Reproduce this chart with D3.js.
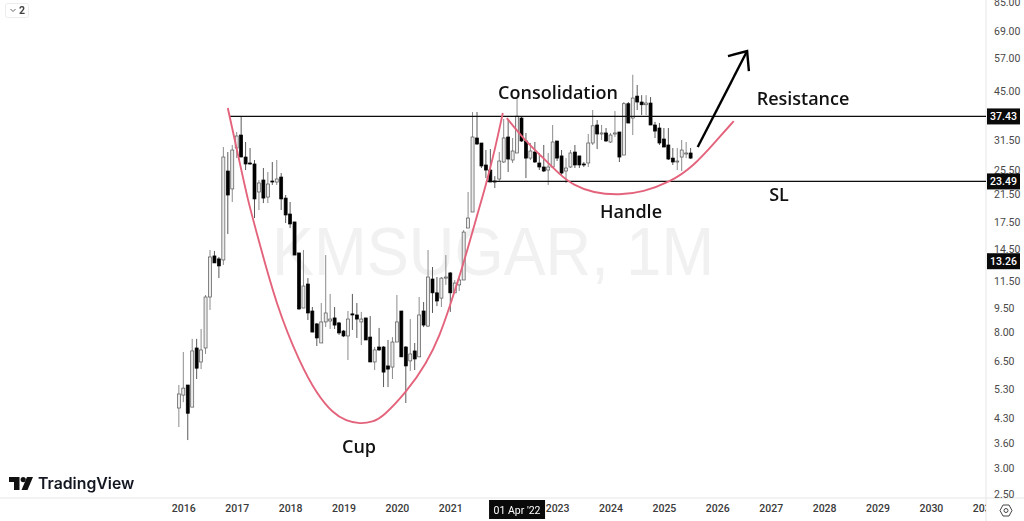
<!DOCTYPE html>
<html>
<head>
<meta charset="utf-8">
<script src="https://cdn.jsdelivr.net/npm/d3@7"></script>
<style>
	html, body { margin: 0; background: #fff; overflow: hidden; }
	text { font-family: "Open Sans", sans-serif; }
</style>
</head>
<body>
<div id="chart"></div>
<script>
// monthly candles, Dec 2015 to Jul 2025
const opens = [4.63,5.08,5.46,4.66,7.12,6.44,7.12,10.26,13.77,13.48,
	13.38,25.31,22.26,29.84,32.76,27.98,26.81,26.62,21.78,23.73,
	21.0,23.56,23.39,24.24,20.85,18.6,17.57,14.07,9.48,11.26,
	9.28,8.46,7.38,8.58,8.64,8.83,8.52,8.04,7.76,9.09,
	9.02,8.58,8.83,7.70,6.44,7.17,7.17,6.26,6.21,7.43,
	9.28,7.17,6.49,6.97,6.68,9.28,8.33,11.67,10.57,10.18,
	11.75,12.19,10.57,11.19,11.59,16.82,18.87,32.07,30.94,26.43,
	25.49,23.56,23.9,27.0,32.3,27.39,28.8,37.0,31.39,27.77,
	29.0,26.81,26.05,25.49,26.05,31.39,28.2,25.31,26.05,29.0,
	28.2,26.62,26.81,30.94,35.2,33.0,33.25,31.16,33.0,33.48,
	28.38,41.0,37.0,43.3,41.5,40.7,41.2,35.2,34.45,31.84,
	30.5,27.77,27.0,27.98,28.6,28.8];
const highs = [5.46,6.92,5.46,7.60,7.60,8.16,10.41,14.37,14.27,13.67,
	30.06,29.0,30.5,33.48,37.27,31.16,29.84,27.39,23.73,25.86,
	25.13,27.0,27.39,24.95,21.31,20.27,17.57,14.07,14.37,11.75,
	9.55,8.52,9.83,13.86,10.49,9.55,8.58,8.10,9.28,10.49,
	9.83,9.22,8.83,8.95,7.17,8.22,7.22,7.54,7.70,10.41,
	9.28,7.22,8.76,7.38,10.26,9.90,14.37,12.72,11.84,11.84,
	13.86,12.27,11.59,11.84,16.58,21.78,38.63,38.63,30.94,29.42,
	29.63,24.4,29.0,36.74,36.48,32.07,42.7,37.27,33.25,30.94,
	31.16,28.8,30.5,28.8,35.2,31.39,29.42,27.77,29.42,30.5,
	28.2,27.0,33.0,39.19,36.48,35.2,34.45,33.25,38.9,33.48,
	41.5,41.5,50.45,46.9,43.6,43.6,43.0,36.0,35.7,34.45,
	34.45,29.84,29.84,31.61,31.16,29.84];
const lows = [4.04,4.83,3.68,4.66,5.70,6.12,6.82,9.35,13.10,11.75,
	12.91,16.11,20.27,27.77,27.98,25.49,26.43,18.07,19.14,20.12,
	20.12,22.9,22.9,19.14,17.44,16.82,13.86,9.35,9.48,8.70,
	7.98,7.22,7.38,8.27,8.16,8.16,7.82,7.70,6.53,8.10,
	7.65,7.27,7.54,6.44,6.08,6.97,5.38,5.38,5.70,7.43,
	6.68,4.80,6.04,6.08,6.68,8.27,8.27,9.15,9.61,9.55,
	11.19,9.22,10.57,10.71,11.59,16.82,18.87,30.5,25.86,24.06,
	23.39,22.4,23.39,26.81,25.13,26.81,28.8,31.16,24.06,27.39,
	26.81,25.49,25.13,22.9,25.86,27.19,24.59,23.23,25.86,25.86,
	25.86,26.05,26.05,30.5,29.63,31.61,31.16,30.94,32.3,27.0,
	28.38,35.7,32.76,39.19,37.8,37.8,35.2,32.07,30.5,30.06,
	27.39,26.43,25.49,25.31,27.77,27.58];
const closes = [5.12,5.34,4.46,6.97,6.16,7.02,10.26,13.67,13.10,12.82,
	27.98,21.31,29.42,32.53,27.98,26.62,26.62,20.72,23.23,20.85,
	23.06,23.39,23.9,20.72,18.47,17.32,13.86,9.42,11.10,9.15,
	7.98,7.65,8.58,9.15,8.76,8.39,7.93,7.76,8.76,9.02,
	8.76,8.76,7.54,6.44,7.02,7.02,5.99,6.12,7.43,8.58,
	6.68,6.26,6.82,6.58,9.02,8.39,11.84,10.57,9.97,11.75,
	11.84,10.57,11.34,11.59,16.34,18.07,32.3,30.72,26.24,25.49,
	23.39,23.39,27.19,32.07,27.58,29.21,37.5,31.39,27.77,29.21,
	27.0,26.05,25.31,26.05,31.16,27.77,24.95,25.86,28.8,26.43,
	26.43,26.43,30.94,35.0,33.0,33.25,31.39,32.76,33.25,27.98,
	41.0,35.7,42.7,41.5,40.7,41.2,35.2,33.7,30.94,30.06,
	27.58,27.0,27.19,29.42,28.8,27.77];

const firstMonth = new Date(2015, 11, 1);
const months = d3.timeMonth.range(firstMonth, new Date(2025, 7, 1));
const baseMonth = new Date(2016, 0, 1);  // month number 0 on the time axis

const priceTicks = [85,69,57,45,31.5,25.5,21.5,17.5,14.5,11.5,9.5,8,6.5,5.3,4.3,3.6,3,2.5];
const priceBadges = [37.43, 23.49, 13.26];
// 2022 sits under the crosshair date label, so it is left out
const yearTicks = [2016,2017,2018,2019,2020,2021,2023,2024,2025,2026,2027,2028,2029,2030,2031];

// drawing tools, x in months since Jan 2016
const resistance = 37.43, stopLoss = 23.49;
const resistanceStart = 10.4, stopLossStart = 68;
const cupMonths = [10,12.7,14.5,16.5,21,26.2,30,33.6,36.6,39.7,42.6,44.9,50.2,54.7,57.7,59.9,62.9,65.9,68.2,70.1,71.8];
const cupPrices = [39.74,26.81,20.56,16.23,9.55,6.39,5.12,4.46,4.22,4.13,4.19,4.35,5.2,6.39,7.82,9.62,12.91,18.2,23.39,29.84,38.36];
const handleMonths = [72.7,76.3,80.2,84.7,87.6,92.1,98.1,103.3,109.4,114.5,119.9,123.7];
const handlePrices = [37,32.07,28.38,24.59,22.9,21.62,21.31,21.78,23.39,26.05,31.61,36.2];
const arrowMonths = [115.6,126.7];
const arrowPrices = [30.06,59.8];
const arrowHeadMonths = [122.4,126.7,127.1];
const arrowHeadPrices = [57.7,59.8,51.8];

const width = 1024, height = 521;
const axisX = 986, axisY = 498;

const svg = d3.select("#chart").append("svg")
	.attr("width", width)
	.attr("height", height)
	.style("display", "block");

const x = d3.scaleLinear().domain([0, 180]).range([183.3, 984.3]);
const y = d3.scaleLog().domain([2.5, 85]).range([494, 2]);

// the source is a soft video frame
svg.append("defs").append("filter").attr("id", "soft")
	.append("feGaussianBlur").attr("stdDeviation", 0.35);
svg.select("defs").append("clipPath").attr("id", "plot")
	.append("rect").attr("width", axisX).attr("height", axisY);
svg.select("defs").append("clipPath").attr("id", "timeClip")
	.append("rect").attr("width", axisX).attr("height", height);

// Watermark
svg.append("text")
	.attr("x", 493).attr("y", 275)
	.attr("text-anchor", "middle")
	.attr("textLength", 442)
	.attr("lengthAdjust", "spacingAndGlyphs")
	.style("font-family", "'Liberation Sans', sans-serif")
	.style("font-size", "68px")
	.attr("fill", "#f1f1f2")
	.text("KMSUGAR, 1M");

// Frame
svg.append("line").attr("x1", axisX).attr("x2", axisX).attr("y1", 0).attr("y2", height)
	.attr("stroke", "#e6e6e6");
svg.append("line").attr("x1", 0).attr("x2", width).attr("y1", axisY).attr("y2", axisY)
	.attr("stroke", "#e6e6e6");

const marks = svg.append("g").attr("clip-path", "url(#plot)").attr("filter", "url(#soft)");

// Candles
const candles = marks.selectAll("g.candle")
	.data(months)
	.join("g")
	.attr("class", "candle")
	.attr("transform", d => "translate(" + x(d3.timeMonth.count(baseMonth, d)) + ",0)");

candles.append("line")
	.attr("y1", (d, i) => y(highs[i]))
	.attr("y2", (d, i) => y(lows[i]))
	.attr("stroke", (d, i) => closes[i] >= opens[i] ? "#8c8c8c" : "#5a5a5a")
	.attr("stroke-width", 1);

candles.append("rect")
	.attr("x", -1.5)
	.attr("width", 3)
	.attr("y", (d, i) => y(Math.max(opens[i], closes[i])))
	.attr("height", (d, i) => Math.max(1, Math.abs(y(opens[i]) - y(closes[i]))))
	.attr("fill", (d, i) => closes[i] >= opens[i] ? "#ececec" : "#000")
	.attr("stroke", (d, i) => closes[i] >= opens[i] ? "#555" : "#000")
	.attr("stroke-width", 0.7);

// Horizontal levels
marks.append("line")
	.attr("x1", x(resistanceStart)).attr("x2", axisX)
	.attr("y1", y(resistance)).attr("y2", y(resistance))
	.attr("stroke", "#111").attr("stroke-width", 1.3);
marks.append("line")
	.attr("x1", x(stopLossStart)).attr("x2", axisX)
	.attr("y1", y(stopLoss)).attr("y2", y(stopLoss))
	.attr("stroke", "#111").attr("stroke-width", 1.3);

// Cup and handle
const curve = d3.line()
	.x(d => x(d[0]))
	.y(d => y(d[1]))
	.curve(d3.curveBasis);

marks.append("path")
	.attr("d", curve(d3.zip(cupMonths, cupPrices)))
	.attr("fill", "none").attr("stroke", "#e4647c").attr("stroke-width", 1.9);
marks.append("path")
	.attr("d", curve(d3.zip(handleMonths, handlePrices)))
	.attr("fill", "none").attr("stroke", "#e4647c").attr("stroke-width", 1.9);

// Arrow
const straight = d3.line().x(d => x(d[0])).y(d => y(d[1]));
marks.append("path")
	.attr("d", straight(d3.zip(arrowMonths, arrowPrices)))
	.attr("fill", "none").attr("stroke", "#000").attr("stroke-width", 2.4);
marks.append("path")
	.attr("d", straight(d3.zip(arrowHeadMonths, arrowHeadPrices)))
	.attr("fill", "none").attr("stroke", "#000").attr("stroke-width", 2.4);

// Annotations
const notes = [
	["Consolidation", 558, 99],
	["Resistance", 803, 105],
	["Handle", 631, 218],
	["SL", 779, 201],
	["Cup", 359, 453]
];
svg.selectAll("text.note")
	.data(notes)
	.join("text")
	.attr("class", "note")
	.attr("x", d => d[1]).attr("y", d => d[2])
	.attr("text-anchor", "middle")
	.attr("fill", "#111")
	.style("font-size", "18px")
	.style("font-weight", 600)
	.text(d => d[0]);

// Price axis
const priceAxis = d3.axisRight(y)
	.tickValues(priceTicks)
	.tickFormat(d3.format(".2f"))
	.tickSize(0)
	.tickPadding(0);
const priceG = svg.append("g")
	.attr("transform", "translate(" + 994 + ",0)")
	.call(priceAxis);
priceG.select(".domain").remove();
priceG.selectAll("text")
	.style("font-family", "Roboto, sans-serif")
	.style("font-size", "10.5px")
	.attr("fill", "#4a4a4a");

// Price badges
const badges = svg.selectAll("g.badge")
	.data(priceBadges)
	.join("g")
	.attr("class", "badge")
	.attr("transform", d => "translate(987," + y(d) + ")");
badges.append("rect")
	.attr("x", 0).attr("y", -8)
	.attr("width", 33).attr("height", 16)
	.attr("fill", "#0a0a0a");
badges.append("text")
	.attr("x", 16.5).attr("dy", "0.35em")
	.attr("text-anchor", "middle")
	.attr("fill", "#fff")
	.style("font-family", "Roboto, sans-serif")
	.style("font-size", "10.5px")
	.style("font-weight", 500)
	.text(d => d.toFixed(2));

// Time axis
const timeAxis = d3.axisBottom(x)
	.tickValues(yearTicks.map(d => (d - 2016) * 12))
	.tickFormat(d => 2016 + d / 12)
	.tickSize(0)
	.tickPadding(0);
const timeG = svg.append("g")
	.attr("clip-path", "url(#timeClip)")
	.append("g")
	.attr("transform", "translate(0,505)")
	.call(timeAxis);
timeG.select(".domain").remove();
timeG.selectAll("text")
	.style("font-family", "Roboto, sans-serif")
	.style("font-size", "10.5px")
	.style("font-weight", 500)
	.attr("fill", "#3a3a3a");

// Crosshair date label
const dateX = x(d3.timeMonth.count(baseMonth, new Date(2022, 3, 1)));
svg.append("rect")
	.attr("x", dateX - 28).attr("y", 500)
	.attr("width", 56).attr("height", 19)
	.attr("fill", "#0a0a0a");
svg.append("text")
	.attr("x", dateX).attr("y", 514)
	.attr("text-anchor", "middle")
	.attr("fill", "#fff")
	.style("font-family", "Roboto, sans-serif")
	.style("font-size", "10.5px")
	.text("01 Apr '22");

// Settings icon
svg.append("path")
	.attr("d", "M1000,510.5 L1003,505 L1009,505 L1012,510.5 L1009,516 L1003,516 Z")
	.attr("fill", "none").attr("stroke", "#444").attr("stroke-width", 1);
svg.append("circle")
	.attr("cx", 1006).attr("cy", 510.5).attr("r", 2)
	.attr("fill", "none").attr("stroke", "#444").attr("stroke-width", 1);

// Logo
const logo = svg.append("g").attr("fill", "#111");
logo.append("path").attr("d", "M9,477 H19.5 V490 H14 V482 H9 Z");
logo.append("circle").attr("cx", 23.2).attr("cy", 479.6).attr("r", 2.6);
logo.append("path").attr("d", "M27,477 H33 L27.5,490 H21.5 Z");
svg.append("text")
	.attr("x", 38).attr("y", 489)
	.attr("fill", "#131722")
	.style("font-family", "Inter, sans-serif")
	.style("font-size", "15.8px")
	.style("font-weight", 600)
	.text("TradingView");

// Collapsed indicators button
svg.append("rect")
	.attr("x", 5.5).attr("y", 3.5)
	.attr("width", 23).attr("height", 14).attr("rx", 2)
	.attr("fill", "#fff").attr("stroke", "#ececec");
svg.append("path")
	.attr("d", "M10.5,9 L13,11.5 L15.5,9")
	.attr("fill", "none").attr("stroke", "#666");
svg.append("text")
	.attr("x", 19).attr("y", 14)
	.attr("fill", "#444")
	.style("font-family", "Roboto, sans-serif")
	.style("font-size", "10.5px")
	.style("font-weight", 700)
	.text("2");
</script>
</body>
</html>
